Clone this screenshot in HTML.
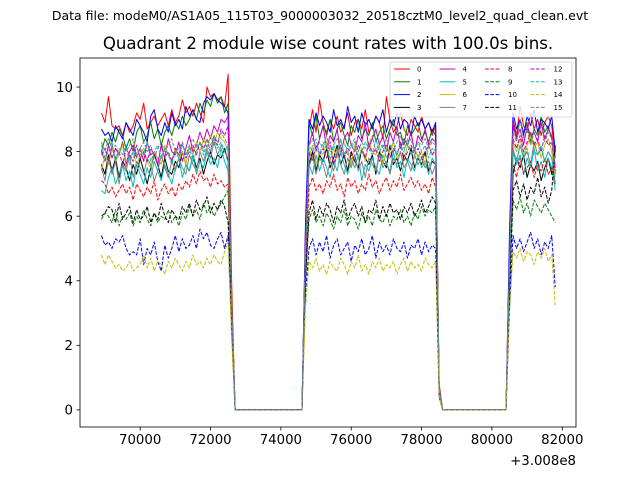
<!DOCTYPE html>
<html><head><meta charset="utf-8">
<style>
html,body{margin:0;padding:0;background:#fff;}
svg{display:block;font-family:"DejaVu Sans","Liberation Sans",sans-serif;}
</style></head>
<body>
<svg id="chart" width="640" height="480" viewBox="0 0 640 480">
<text x="320" y="20" text-anchor="middle" font-size="12.5">Data file: modeM0/AS1A05_115T03_9000003032_20518cztM0_level2_quad_clean.evt</text>
<text x="328" y="49" text-anchor="middle" font-size="16.6">Quadrant 2 module wise count rates with 100.0s bins.</text>
<g id="plot"></g>
</svg>
<script>
const startTime = 68900;
const binSize = 100;
const xTicks = [70000,72000,74000,76000,78000,80000,82000];
const yTicks = [0,2,4,6,8,10];
const seriesLabels = ["0","1","2","3","4","5","6","7","8","9","10","11","12","13","14","15"];
const s0 = [9.2,8.9,9.7,8.8,8.7,8.8,8.5,8.9,8.6,8.8,9.2,9.0,9.5,8.7,8.9,9.1,8.8,9.0,9.2,8.8,9.3,8.9,9.1,9.6,9.2,9.4,9.1,9.5,9.2,8.9,10.0,9.7,9.8,9.6,9.7,9.4,10.4,4.0,0,0,0,0,0,0,0,0,0,0,0,0,0,0,0,0,0,0,0,0,5.5,8.7,9.3,8.6,9.6,8.9,8.5,9.0,8.7,9.1,8.6,8.8,9.2,8.5,8.9,9.0,8.7,9.3,8.6,8.8,9.1,8.9,8.4,9.7,9.0,8.6,8.8,9.2,8.7,8.5,9.0,8.8,8.6,9.1,8.7,8.9,8.5,8.8,0.8,0,0,0,0,0,0,0,0,0,0,0,0,0,0,0,0,0,0,0,5.0,9.0,8.5,9.4,8.8,8.6,9.2,8.7,9.0,8.5,8.9,9.1,8.8,7.8];
const s1 = [8.0,8.4,8.2,8.6,8.3,8.7,8.5,8.1,8.4,8.0,8.6,8.8,8.3,8.5,8.9,8.4,8.7,8.2,8.6,8.8,8.5,8.9,8.7,9.1,8.8,9.0,9.3,9.0,9.5,9.2,9.6,9.4,9.8,9.5,9.7,9.2,9.5,3.5,0,0,0,0,0,0,0,0,0,0,0,0,0,0,0,0,0,0,0,0,5.2,8.9,8.5,9.1,8.4,8.8,8.6,9.0,8.3,8.7,8.9,8.5,8.2,8.8,8.6,9.0,8.4,8.7,8.5,8.9,8.3,8.6,8.8,8.4,8.7,9.0,8.5,8.6,8.2,8.8,8.5,8.7,8.9,8.4,8.6,8.3,8.7,8.5,0.7,0,0,0,0,0,0,0,0,0,0,0,0,0,0,0,0,0,0,0,4.8,8.8,8.4,9.0,8.6,8.9,8.3,8.7,8.5,9.1,8.6,8.8,8.4,7.5];
const s2 = [8.7,8.5,8.6,8.3,8.8,8.6,8.4,8.9,8.7,8.5,9.0,8.8,8.6,8.3,9.1,9.3,8.7,8.5,8.9,8.6,9.2,8.8,9.0,8.7,9.4,9.1,9.3,9.0,8.9,9.5,9.7,9.6,9.8,9.6,9.5,9.4,9.2,3.0,0,0,0,0,0,0,0,0,0,0,0,0,0,0,0,0,0,0,0,0,5.8,9.0,8.7,9.2,8.8,9.1,8.9,8.6,9.3,8.8,9.0,8.7,9.4,8.9,9.1,8.6,9.2,8.8,9.0,8.7,9.1,8.9,9.3,8.6,9.0,8.8,9.2,8.7,9.0,8.9,8.5,9.1,8.8,9.0,8.7,8.9,8.6,8.9,0.6,0,0,0,0,0,0,0,0,0,0,0,0,0,0,0,0,0,0,0,5.5,9.2,8.7,9.0,8.5,9.1,8.8,9.3,8.6,9.0,8.9,8.7,9.1,8.0];
const s3 = [7.6,7.3,7.9,7.4,7.8,7.2,7.7,7.5,7.1,7.6,7.3,7.8,7.4,7.0,7.5,7.9,7.6,7.2,7.8,7.4,7.3,7.7,7.5,8.0,7.6,7.4,7.9,7.5,7.8,7.3,7.7,8.0,7.6,7.9,7.8,8.1,7.7,3.2,0,0,0,0,0,0,0,0,0,0,0,0,0,0,0,0,0,0,0,0,4.8,7.6,8.0,7.4,7.9,7.7,8.1,7.5,7.8,8.2,7.6,7.9,7.4,8.0,7.7,7.5,8.1,7.8,7.6,7.9,7.3,8.0,7.7,7.5,8.2,7.6,7.8,7.4,7.9,7.7,8.1,7.5,7.8,7.6,8.0,7.4,7.7,7.6,0.6,0,0,0,0,0,0,0,0,0,0,0,0,0,0,0,0,0,0,0,4.0,7.3,7.8,7.5,7.9,7.2,7.6,7.4,7.7,7.1,7.5,7.8,7.3,8.1];
const s4 = [8.0,7.7,8.2,7.8,8.1,7.9,8.3,7.6,8.0,8.2,7.8,8.1,7.7,8.3,7.9,8.0,7.6,8.2,7.8,8.4,8.0,7.9,8.3,7.7,8.1,8.5,8.0,8.2,8.6,8.3,8.7,8.4,8.8,8.6,9.0,8.9,9.1,3.4,0,0,0,0,0,0,0,0,0,0,0,0,0,0,0,0,0,0,0,0,5.0,8.2,8.6,8.0,8.4,8.8,8.1,8.5,8.3,8.7,7.9,8.4,8.6,8.2,8.0,8.5,8.3,8.9,8.1,8.4,8.7,8.2,8.5,8.0,8.6,8.3,8.8,8.1,8.4,8.2,8.6,8.0,8.5,8.3,8.7,8.2,8.4,8.3,0.6,0,0,0,0,0,0,0,0,0,0,0,0,0,0,0,0,0,0,0,4.5,8.9,8.4,8.7,8.2,8.8,8.5,8.6,8.3,8.9,8.4,8.7,8.5,7.3];
const s5 = [6.8,6.7,7.2,7.5,7.0,7.3,7.6,7.1,7.4,6.9,7.6,7.3,7.0,7.5,7.2,7.7,7.4,7.1,7.6,7.3,7.0,7.5,7.8,7.2,7.6,7.4,7.9,7.3,7.7,7.5,8.0,7.6,7.8,7.5,8.1,7.7,7.4,3.0,0,0,0,0,0,0,0,0,0,0,0,0,0,0,0,0,0,0,0,0,4.6,7.6,7.3,7.9,7.4,7.8,7.5,7.2,7.7,7.4,8.0,7.6,7.3,7.8,7.5,7.9,7.1,7.6,7.4,7.8,7.5,7.3,7.9,7.6,7.4,8.0,7.5,7.7,7.2,7.8,7.6,7.4,7.9,7.5,7.7,7.3,7.8,7.6,0.6,0,0,0,0,0,0,0,0,0,0,0,0,0,0,0,0,0,0,0,4.2,8.0,7.6,7.9,7.3,7.8,7.5,8.1,7.4,7.7,7.2,7.8,7.5,6.8];
const s6 = [7.4,7.9,7.6,8.1,7.7,7.9,8.2,7.5,7.8,8.0,7.6,7.9,8.1,7.7,7.5,8.0,7.8,7.6,8.2,7.9,7.7,8.1,7.8,8.0,7.6,8.2,7.9,8.3,8.0,8.4,8.1,8.5,8.2,8.6,8.4,8.3,8.0,3.3,0,0,0,0,0,0,0,0,0,0,0,0,0,0,0,0,0,0,0,0,4.9,7.8,8.2,7.6,8.0,7.9,8.3,7.7,8.1,7.8,8.4,7.9,8.0,7.6,8.2,7.8,8.1,7.7,8.3,8.0,7.9,8.2,7.6,8.1,7.9,8.3,7.8,8.0,7.7,8.2,7.9,8.1,7.8,8.0,7.6,8.2,7.9,8.0,0.6,0,0,0,0,0,0,0,0,0,0,0,0,0,0,0,0,0,0,0,4.4,8.3,8.0,8.4,7.9,8.2,8.5,8.1,8.3,7.8,8.2,8.4,8.0,7.2];
const s7 = [7.5,7.1,7.8,7.3,7.7,7.0,7.6,7.4,7.9,7.2,7.7,7.5,7.3,7.8,7.6,7.1,7.4,7.9,7.5,7.2,7.7,7.4,7.8,7.5,7.3,7.9,7.6,7.4,8.0,7.7,8.1,7.8,8.3,7.9,8.2,8.0,7.8,3.2,0,0,0,0,0,0,0,0,0,0,0,0,0,0,0,0,0,0,0,0,4.7,7.5,7.9,7.3,7.8,7.6,7.2,7.7,7.4,8.0,7.6,7.3,7.8,7.5,7.9,7.4,7.7,7.2,7.8,7.6,7.4,7.9,7.5,7.7,7.3,7.8,7.6,8.0,7.5,7.7,7.4,7.9,7.6,7.8,7.5,7.7,7.3,7.6,0.6,0,0,0,0,0,0,0,0,0,0,0,0,0,0,0,0,0,0,0,4.3,8.1,7.7,8.2,7.8,8.0,7.6,8.3,7.9,8.1,7.7,8.0,7.8,7.0];
const s8 = [7.1,7.0,6.7,6.9,6.6,6.8,7.0,6.7,6.9,6.5,7.0,6.8,6.6,6.9,6.7,7.1,6.5,6.8,7.0,6.7,6.9,6.6,7.0,6.8,7.1,6.9,7.3,7.0,7.4,7.1,7.2,6.9,7.3,7.0,7.1,6.9,7.0,2.8,0,0,0,0,0,0,0,0,0,0,0,0,0,0,0,0,0,0,0,0,4.3,6.9,7.2,6.8,7.0,6.7,7.1,6.9,7.3,6.8,7.0,6.6,7.2,6.9,7.1,6.7,7.0,6.8,7.3,6.9,7.1,6.7,7.0,7.2,6.8,7.1,6.9,7.3,6.8,7.0,7.2,6.9,7.1,6.8,7.0,6.7,7.2,6.9,0.5,0,0,0,0,0,0,0,0,0,0,0,0,0,0,0,0,0,0,0,4.0,7.6,7.2,7.8,7.3,7.5,7.7,7.2,7.6,7.4,7.8,7.3,7.5,7.0];
const s9 = [5.9,6.1,6.0,5.8,6.2,5.7,6.0,5.9,6.1,5.7,6.0,5.8,6.2,5.9,5.7,6.1,5.8,6.0,5.9,6.2,5.8,6.0,5.7,6.1,5.9,6.3,6.0,6.2,5.9,6.4,6.1,6.3,6.0,6.2,6.4,6.6,6.8,2.8,0,0,0,0,0,0,0,0,0,0,0,0,0,0,0,0,0,0,0,0,4.0,5.9,6.2,5.8,6.0,5.7,6.1,5.9,5.6,6.0,5.8,6.2,5.7,6.0,5.9,5.6,6.1,5.8,6.0,5.7,6.2,5.9,5.8,6.1,5.7,6.0,5.9,6.2,5.8,6.0,5.7,6.1,5.9,6.3,6.0,6.2,6.1,6.3,0.5,0,0,0,0,0,0,0,0,0,0,0,0,0,0,0,0,0,0,0,3.6,6.5,6.2,6.6,6.1,6.4,6.0,6.5,6.3,6.1,6.4,6.2,6.0,5.8];
const s10 = [5.4,5.1,5.2,5.0,5.3,5.2,5.4,5.0,4.8,4.9,4.8,5.3,4.5,5.0,4.8,5.2,4.6,4.3,5.1,4.7,5.0,5.4,4.9,5.3,5.0,5.1,5.4,5.0,5.6,5.3,5.5,5.1,5.0,5.3,5.5,5.0,5.4,2.4,0,0,0,0,0,0,0,0,0,0,0,0,0,0,0,0,0,0,0,0,3.6,5.0,5.3,4.8,5.2,4.9,5.4,4.7,5.1,5.3,4.8,5.0,5.2,4.6,5.1,4.9,5.3,4.8,5.0,5.4,4.7,5.2,4.9,5.1,4.8,5.3,5.0,4.9,5.2,4.7,5.1,5.0,5.3,4.8,5.2,4.9,5.1,5.0,0.4,0,0,0,0,0,0,0,0,0,0,0,0,0,0,0,0,0,0,0,3.2,5.4,5.0,5.3,4.9,5.2,5.5,5.0,5.3,4.8,5.2,5.0,5.4,3.8];
const s11 = [6.0,6.1,6.3,6.2,5.8,6.4,5.9,6.1,6.3,5.8,6.2,5.9,6.0,6.3,5.8,6.1,5.9,6.4,6.0,5.8,6.2,6.0,5.9,6.3,6.1,6.4,6.0,6.5,6.2,6.3,6.6,6.1,6.4,6.2,6.5,6.3,5.8,2.6,0,0,0,0,0,0,0,0,0,0,0,0,0,0,0,0,0,0,0,0,4.1,6.1,6.5,5.9,6.3,6.0,6.4,6.2,5.8,6.3,6.1,6.5,5.9,6.2,6.4,6.0,6.3,5.8,6.2,6.1,6.5,5.9,6.3,6.0,6.4,6.1,6.2,5.9,6.3,6.1,6.4,6.0,6.2,6.5,6.1,6.3,6.6,6.4,0.5,0,0,0,0,0,0,0,0,0,0,0,0,0,0,0,0,0,0,0,3.8,6.8,7.1,6.6,7.0,6.5,6.9,6.7,7.2,6.6,6.9,6.4,6.8,8.2];
const s12 = [7.9,8.1,7.7,8.2,7.8,8.0,7.6,8.1,7.9,7.7,8.2,7.8,8.0,7.7,8.1,7.9,7.6,8.2,7.8,8.0,7.7,8.1,7.9,8.3,7.8,8.0,8.2,7.9,8.3,8.1,8.4,8.0,8.5,8.2,8.7,8.5,8.8,3.3,0,0,0,0,0,0,0,0,0,0,0,0,0,0,0,0,0,0,0,0,4.9,8.0,7.7,8.2,7.9,8.1,7.8,8.3,7.6,8.0,8.2,7.8,8.1,7.9,7.7,8.2,8.0,7.8,8.3,7.9,8.1,7.7,8.0,8.2,7.8,8.1,7.9,8.3,7.7,8.0,8.2,7.9,8.1,7.8,8.0,8.2,7.9,8.1,0.6,0,0,0,0,0,0,0,0,0,0,0,0,0,0,0,0,0,0,0,4.4,8.4,8.1,8.5,8.0,8.3,8.6,8.2,8.4,8.0,8.5,8.2,8.3,7.4];
const s13 = [8.2,7.8,8.0,8.3,7.7,8.1,7.9,8.2,7.6,8.0,7.8,8.1,7.9,8.3,7.7,8.0,8.2,7.8,8.1,7.9,7.6,8.0,7.8,8.2,7.9,8.1,7.7,8.0,8.3,7.9,8.2,8.0,8.4,8.1,8.3,8.0,8.2,3.2,0,0,0,0,0,0,0,0,0,0,0,0,0,0,0,0,0,0,0,0,4.8,8.2,8.0,8.4,7.9,8.3,8.1,7.8,8.2,8.0,8.4,7.9,8.2,8.1,8.3,7.8,8.0,8.3,8.1,7.9,8.4,8.0,8.2,7.8,8.1,8.3,7.9,8.2,8.0,8.4,7.9,8.1,8.3,8.0,8.2,7.8,8.1,8.0,0.6,0,0,0,0,0,0,0,0,0,0,0,0,0,0,0,0,0,0,0,4.4,8.0,7.7,8.2,7.8,8.1,7.6,8.0,7.9,8.2,7.7,8.0,7.8,7.0];
const s14 = [4.8,4.5,4.8,4.6,4.4,4.5,4.3,4.4,4.6,4.3,4.4,4.5,4.8,4.4,4.7,4.3,4.6,4.5,4.2,4.6,4.4,4.7,4.5,4.3,4.6,4.4,4.8,4.5,4.6,4.4,4.7,4.5,4.8,4.6,4.5,4.9,5.2,2.2,0,0,0,0,0,0,0,0,0,0,0,0,0,0,0,0,0,0,0,0,3.2,4.6,4.4,4.7,4.3,4.5,4.2,4.6,4.4,4.3,4.7,4.5,4.2,4.6,4.4,4.8,4.3,4.5,4.2,4.6,4.4,4.7,4.3,4.5,4.4,4.6,4.2,4.5,4.7,4.3,4.6,4.4,4.5,4.3,4.7,4.5,4.4,4.6,0.4,0,0,0,0,0,0,0,0,0,0,0,0,0,0,0,0,0,0,0,3.0,4.9,4.7,5.0,4.6,4.9,4.8,4.5,4.9,4.7,5.0,4.6,4.8,3.2];
const s15 = [8.3,8.0,8.4,8.1,8.2,7.9,8.3,8.0,8.2,8.4,7.9,8.1,8.3,8.0,8.2,7.8,8.1,8.3,8.0,8.2,8.4,8.0,8.1,8.3,7.9,8.2,8.4,8.1,8.3,8.0,8.4,8.2,8.5,8.3,8.6,8.4,8.2,3.3,0,0,0,0,0,0,0,0,0,0,0,0,0,0,0,0,0,0,0,0,5.0,8.2,8.4,8.0,8.3,8.1,8.5,8.0,8.2,8.4,8.1,8.3,7.9,8.2,8.4,8.0,8.3,8.1,8.2,8.5,8.0,8.3,8.1,8.4,8.2,8.0,8.3,8.5,8.1,8.2,8.4,8.0,8.3,8.2,8.4,8.1,8.3,8.2,0.6,0,0,0,0,0,0,0,0,0,0,0,0,0,0,0,0,0,0,0,4.6,8.6,8.3,9.0,8.4,8.7,8.2,8.6,8.5,8.8,8.3,8.6,8.4,7.6];
const allSeries = [s0,s1,s2,s3,s4,s5,s6,s7,s8,s9,s10,s11,s12,s13,s14,s15];

const colors = ["#ff0000","#008000","#0000ff","#000000","#bf00bf","#00bfbf","#bfbf00","#808080"];
const PL=80, PR=576, PT=58, PB=427;
const XMIN=68290, XMAX=82390, YMIN=-0.53, YMAX=10.9;
function xs(t){return PL+(t-XMIN)/(XMAX-XMIN)*(PR-PL);}
function ys(v){return PB-(v-YMIN)/(YMAX-YMIN)*(PB-PT);}
const NS="http://www.w3.org/2000/svg";
const plot=document.getElementById('plot');
function mk(tag,attrs,parent){const e=document.createElementNS(NS,tag);for(const k in attrs)e.setAttribute(k,attrs[k]);(parent||plot).appendChild(e);return e;}

const seriesG=mk('g',{});


allSeries.forEach((arr,si)=>{
  const pts=arr.map((v,i)=>xs(startTime+i*binSize).toFixed(2)+','+ys(v).toFixed(2)).join(' ');
  const a={points:pts,fill:'none',stroke:colors[si%8],'stroke-width':1,'stroke-linejoin':'round'};
  if(si>=8)a['stroke-dasharray']='3.7,1.6';
  const p=mk('polyline',a,seriesG);
  
  
});

const frame=mk('rect',{x:PL,y:PT,width:PR-PL,height:PB-PT,fill:'none',stroke:'#000','stroke-width':0.8});



xTicks.forEach(t=>{
  const x=xs(t);
  const tk=mk('line',{x1:x,x2:x,y1:PB,y2:PB+3.5,stroke:'#000','stroke-width':0.8});
  
  
  const lb=mk('text',{x:x,y:PB+17,'text-anchor':'middle','font-size':13.3});
  lb.textContent=t;
  
  
});
const off=mk('text',{x:PR,y:PB+38,'text-anchor':'end','font-size':13.3});
off.textContent='+3.008e8';


yTicks.forEach(v=>{
  const y=ys(v);
  const tk=mk('line',{x1:PL-3.5,x2:PL,y1:y,y2:y,stroke:'#000','stroke-width':0.8});
  
  
  const lb=mk('text',{x:PL-7,y:y+4.7,'text-anchor':'end','font-size':13.3});
  lb.textContent=v;
  
  
});

const leg=mk('g',{});


const lb=mk('rect',{x:390,y:62,width:182,height:55,fill:'#fff','fill-opacity':0.8,stroke:'#ccc','stroke-width':0.8,rx:2},leg);


seriesLabels.forEach((name,si)=>{
  const col=Math.floor(si/4), row=si%4;
  const x0=394+col*45.5, y0=69+row*12.8;
  const a={x1:x0,x2:x0+16,y1:y0,y2:y0,stroke:colors[si%8],'stroke-width':1};
  if(si>=8)a['stroke-dasharray']='3.7,1.6';
  const ln=mk('line',a,leg);
  
  
  const tx=mk('text',{x:x0+23,y:y0+2.5,'font-size':7},leg);
  tx.textContent=name;
  
  
});
</script>
</body></html>
